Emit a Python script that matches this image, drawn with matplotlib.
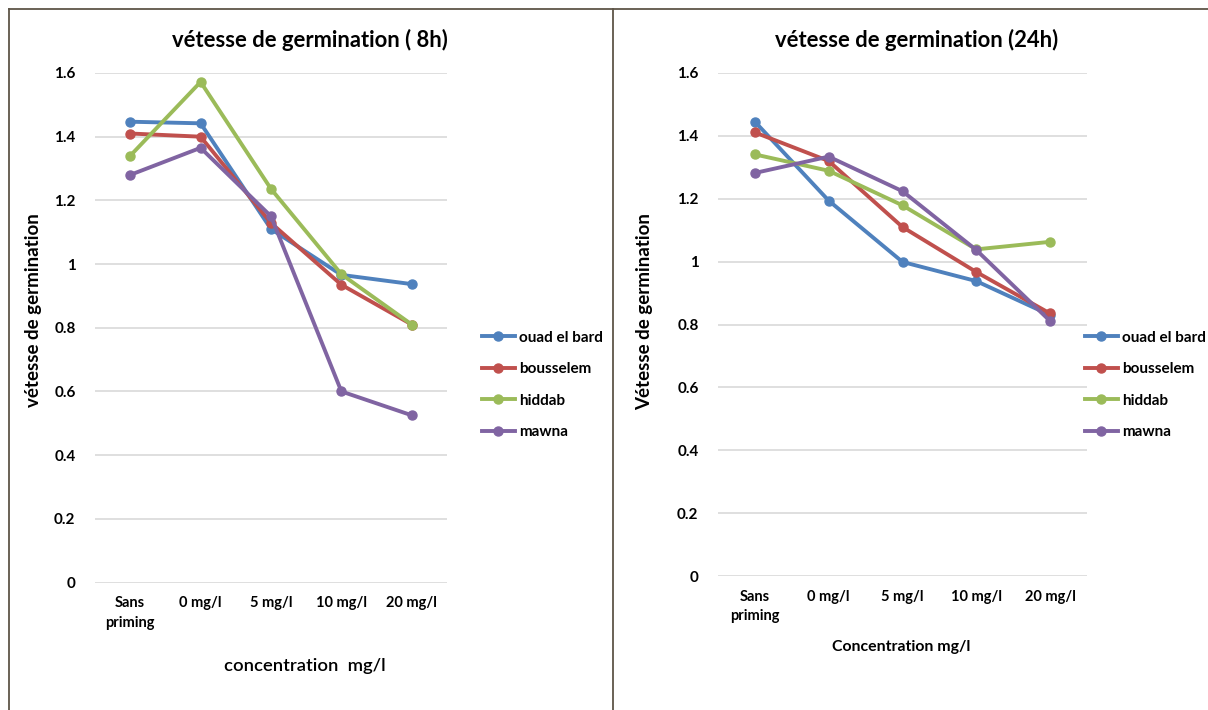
import numpy as np
import matplotlib.pyplot as plt
from matplotlib.lines import Line2D

plt.rcParams["font.family"] = ["Lato", "DejaVu Sans"]

categories = ["Sans\npriming", "0 mg/l", "5 mg/l", "10 mg/l", "20 mg/l"]
varietes = ["ouad el bard", "bousselem", "hiddab", "mawna"]
couleurs = ["#4F81BD", "#C0504D", "#9BBB59", "#8064A2"]

# vitesse de germination après 8h
v8_ouad = [1.447, 1.442, 1.110, 0.966, 0.937]
v8_bous = [1.410, 1.400, 1.129, 0.935, 0.810]
v8_hidd = [1.340, 1.572, 1.236, 0.968, 0.810]
v8_mawn = [1.280, 1.365, 1.150, 0.600, 0.525]

# vitesse de germination après 24h
v24_ouad = [1.445, 1.194, 0.999, 0.938, 0.830]
v24_bous = [1.411, 1.320, 1.110, 0.967, 0.835]
v24_hidd = [1.341, 1.289, 1.179, 1.039, 1.063]
v24_mawn = [1.282, 1.334, 1.224, 1.037, 0.811]

yticks = [0, 0.2, 0.4, 0.6, 0.8, 1, 1.2, 1.4, 1.6]
ytick_labels = ["0", "0.2", "0.4", "0.6", "0.8", "1", "1.2", "1.4", "1.6"]

W, H = 1208, 710
fig = plt.figure(figsize=(W / 100, H / 100), dpi=100)


def panneau(rect, series, titre, titre_x, ylabel, ylab_pos, xlabel, xlab_pos, xlab_kw, leg_x):
    ax = fig.add_axes(rect)
    x = np.arange(len(categories))
    for s, nom, c in zip(series, varietes, couleurs):
        ax.plot(x, s, color=c, lw=2.8, marker="o", ms=6.5, label=nom, solid_capstyle="round")
    ax.set_xlim(-0.5, len(categories) - 0.5)
    ax.set_ylim(0, 1.6)
    ax.set_yticks(yticks)
    ax.set_yticklabels(ytick_labels, fontsize=11, fontweight="bold")
    ax.set_xticks(x)
    ax.set_xticklabels(categories, fontsize=10.5, fontweight="bold", linespacing=1.5)
    ax.tick_params(length=0, pad=10)
    ax.tick_params(axis="y", pad=14)
    ax.grid(axis="y", color="#D9D9D9", lw=1.2)
    ax.set_axisbelow(True)
    for sp in ax.spines.values():
        sp.set_visible(False)

    ax.text(ylab_pos[0], ylab_pos[1], ylabel, transform=ax.transAxes, rotation=90,
            ha="center", va="center", fontsize=13.5, fontweight="bold")
    ax.text(xlab_pos[0], xlab_pos[1], xlabel, transform=ax.transAxes,
            ha="center", va="center", **xlab_kw)
    fig.text(titre_x, 1 - 40 / H, titre, ha="center", va="center",
             fontsize=15.8, fontweight="bold")

    handles = [Line2D([], [], color=c, lw=2.8, marker="o", ms=6.5) for c in couleurs]
    fig.legend(handles, varietes, loc="upper left", bbox_to_anchor=(leg_x, 1 - 323 / H),
               bbox_transform=fig.transFigure, frameon=False, borderpad=0,
               handlelength=2.2, handletextpad=0.25, labelspacing=1.15,
               prop={"size": 11, "weight": "bold"})
    return ax


panneau([95 / W, 1 - 582.5 / H, 352 / W, 509.5 / H],
        [v8_ouad, v8_bous, v8_hidd, v8_mawn],
        "vétesse de germination ( 8h)", 310 / W,
        "vétesse de germination", (-0.176, 0.535),
        "concentration  mg/l", (0.597, -0.164), {"fontsize": 13.3, "fontweight": "semibold"},
        474 / W)

panneau([718 / W, 1 - 576 / H, 369 / W, 503 / H],
        [v24_ouad, v24_bous, v24_hidd, v24_mawn],
        "vétesse de germination (24h)", 917 / W,
        "Vétesse de germination", (-0.198, 0.525),
        "Concentration mg/l", (0.496, -0.141), {"fontsize": 11.4, "fontweight": "bold"},
        1077 / W)

# cadres des deux graphiques
bord = "#5E5548"
fig.add_artist(Line2D([8.5 / W, 1], [1 - 8.5 / H, 1 - 8.5 / H], color=bord, lw=1.3))
fig.add_artist(Line2D([8.5 / W, 8.5 / W], [0, 1 - 8.5 / H], color=bord, lw=1.3))
fig.add_artist(Line2D([613 / W, 613 / W], [0, 1 - 8.5 / H], color=bord, lw=1.3))

fig.savefig("out.png", dpi=100)
